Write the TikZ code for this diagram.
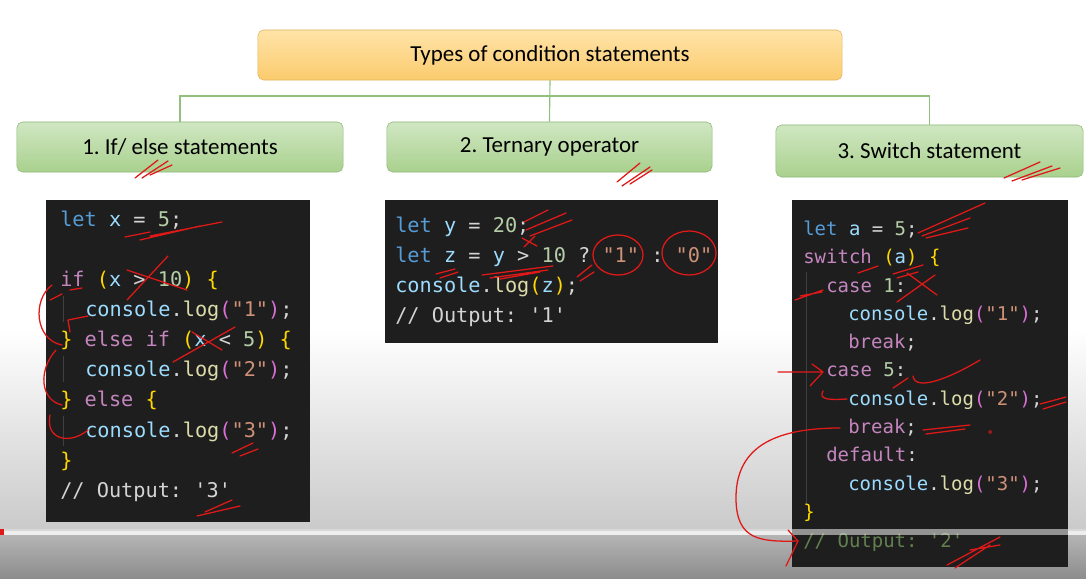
\documentclass[tikz,border=0pt]{standalone}
\usepackage{fontspec}
\setmainfont{Carlito}
\newfontfamily\codefont{DejaVu Sans Mono}
\usepackage{xcolor}
\usetikzlibrary{positioning,arrows.meta}
\definecolor{titletop}{HTML}{FFE4A8}
\definecolor{titlebot}{HTML}{FBCB6E}
\definecolor{titleedge}{HTML}{E0B25C}
\definecolor{kindtop}{HTML}{D0E7C2}
\definecolor{kindbot}{HTML}{A9D18E}
\definecolor{kindedge}{HTML}{8DB878}
\definecolor{treegreen}{HTML}{93BF7C}
\definecolor{panelbg}{HTML}{1E1E1E}
\definecolor{codetext}{HTML}{D4D4D4}
\definecolor{kwblue}{HTML}{569CD6}
\definecolor{varblue}{HTML}{9CDCFE}
\definecolor{numgreen}{HTML}{B5CEA8}
\definecolor{ctlpurple}{HTML}{C586C0}
\definecolor{bracegold}{HTML}{FFD700}
\definecolor{parenpink}{HTML}{DA70D6}
\definecolor{strorange}{HTML}{CE9178}
\definecolor{fngold}{HTML}{DCDCAA}
\definecolor{cmtgreen}{HTML}{62804F}
\definecolor{guidegrey}{HTML}{404040}
\definecolor{inkred}{HTML}{E01818}
\definecolor{fadeA}{HTML}{CACACA}
\definecolor{fadeB}{HTML}{B4B4B4}
\definecolor{fadeC}{HTML}{8C8C8C}
\definecolor{barlight}{HTML}{E2E2E2}
\newcommand{\kwd}[1]{\textcolor{kwblue}{#1}}
\newcommand{\vr}[1]{\textcolor{varblue}{#1}}
\newcommand{\nm}[1]{\textcolor{numgreen}{#1}}
\newcommand{\ctl}[1]{\textcolor{ctlpurple}{#1}}
\newcommand{\brc}[1]{\textcolor{bracegold}{#1}}
\newcommand{\prn}[1]{\textcolor{parenpink}{#1}}
\newcommand{\strg}[1]{\textcolor{strorange}{#1}}
\newcommand{\fnc}[1]{\textcolor{fngold}{#1}}
\newcommand{\logcall}[1]{\vr{console}.\fnc{log}\prn{(}\strg{"#1"}\prn{)};}

\begin{document}
\begin{tikzpicture}[x=0.025cm,y=-0.025cm,
  topic/.style={draw=titleedge,rounded corners=4pt,top color=titletop,bottom color=titlebot,
    minimum width=14.6cm,minimum height=1.25cm,font=\fontsize{16.3}{18}\selectfont},
  kind/.style={draw=kindedge,rounded corners=4pt,top color=kindtop,bottom color=kindbot,
    minimum height=1.25cm,font=\fontsize{16.3}{18}\selectfont\frenchspacing},
  tree/.style={draw=treegreen,line width=0.8pt},
  code/.style={anchor=base west,inner sep=0pt,text=codetext,
    font=\codefont\fontsize{14.4}{16}\selectfont\frenchspacing},
  small code/.style={code,font=\codefont\fontsize{13.5}{16}\selectfont\frenchspacing},
  guide/.style={draw=guidegrey,line width=0.6pt},
  ink/.style={draw=inkred,line width=0.9pt,line cap=round,line join=round}]
  \useasboundingbox (0,0) rectangle (1086,579);
  % backdrop (video overlay fades to grey)
  \fill[white] (0,0) rectangle (1086,331);
  \shade[top color=white,bottom color=fadeA] (0,330) rectangle (1086,530);
  \shade[top color=fadeB,bottom color=fadeC] (0,535) rectangle (1086,579);

  % headings
  \node[topic] (topic) at (550,55) {Types of condition statements};
  \node[kind,minimum width=8.15cm] (kind1) at (180,147) {1. If/ else statements};
  \node[kind,minimum width=8.125cm] (kind2) at (549.5,147) {2. Ternary operator};
  \node[kind,minimum width=7.675cm,minimum height=1.3cm] (kind3) at (929.5,151) {3. Switch statement};
  \coordinate (bus) at (550,96);
  \draw[tree] (topic.south) -- (kind2.north);
  \draw[tree] (kind1.north) |- (bus) -| (kind3.north);

  % panel 1: if / else
  \fill[panelbg] (46,200) rectangle (310,522);
  \draw[guide] (63,296) -- (63,322) (63,356) -- (63,382) (63,416) -- (63,446);
  \node[code] (p1a) at (60,226) {\kwd{let} \vr{x} = \nm{5};};
  \node[code] (p1b) at (60,286) {\ctl{if} \brc{(}\vr{x} > \nm{10}\brc{)} \brc{\{}};
  \node[code] (p1c) at (85,316) {\logcall{1}};
  \node[code] (p1d) at (60,346) {\brc{\}} \ctl{else if} \brc{(}\vr{x} < \nm{5}\brc{)} \brc{\{}};
  \node[code] (p1e) at (85,376) {\logcall{2}};
  \node[code] (p1f) at (60,406) {\brc{\}} \ctl{else} \brc{\{}};
  \node[code] (p1g) at (85,437) {\logcall{3}};
  \node[code] (p1h) at (60,467) {\brc{\}}};
  \node[code] (p1i) at (60,497) {// Output: '3'};

  % panel 2: ternary
  \fill[panelbg] (385,200) rectangle (718,343);
  \node[code] (p2a) at (395,232) {\kwd{let} \vr{y} = \nm{20};};
  \node[code] (p2b) at (395,262) {\kwd{let} \vr{z} = \vr{y} > \nm{10} ? \strg{"1"} : \strg{"0"}};
  \node[code] (p2c) at (395,292) {\vr{console}.\fnc{log}\brc{(}\vr{z}\brc{)};};
  \node[code] (p2d) at (395,322) {// Output: '1'};

  % panel 3: switch
  \fill[panelbg] (792,200) rectangle (1068,567);
  \draw[guide] (806,272) -- (806,505);
  \node[small code] (p3a) at (803,235) {\kwd{let} \vr{a} = \nm{5};};
  \node[small code] (p3b) at (803,263) {\ctl{switch} \brc{(}\vr{a}\brc{)} \brc{\{}};
  \node[small code] (p3c) at (826,292) {\ctl{case} \nm{1}:};
  \node[small code] (p3d) at (848,320) {\logcall{1}};
  \node[small code] (p3e) at (848,348) {\ctl{break};};
  \node[small code] (p3f) at (826,376) {\ctl{case} \nm{5}:};
  \node[small code] (p3g) at (848,405) {\logcall{2}};
  \node[small code] (p3h) at (848,433) {\ctl{break};};
  \node[small code] (p3i) at (826,461) {\ctl{default}:};
  \node[small code] (p3j) at (848,490) {\logcall{3}};
  \node[small code] (p3k) at (803,518) {\brc{\}}};
  \node[small code,text=cmtgreen] (p3l) at (803,547) {// Output: '2'};

  % progress bar
  \fill[barlight,opacity=0.6] (0,529) rectangle (1086,535);
  \fill[inkred] (0,529) rectangle (4,535);

  % red pen marks
  \draw[ink] (135,178) -- (158,160) (142,178) -- (168,161) (150,175) -- (172,165);
  \draw[ink] (617,182) -- (640,163) (622,186) -- (650,167) (630,184) -- (652,170);
  \draw[ink] (1004,178) -- (1040,162) (1012,181) -- (1052,166) (1022,180) -- (1060,168);
  \draw[ink] (125,237) -- (150,232) (140,240) -- (200,226) (150,236) -- (222,222);
  \draw[ink] (127,300) -- (168,256) (127,270) -- (187,290);
  \draw[ink] (50,300) -- (62,294) (70,290) -- (82,288);
  \draw[ink] (52,285) .. controls (32,300) and (35,340) .. (62,345);
  \draw[ink] (68,320) -- (88,316) (68,320) -- (70,332);
  \draw[ink] (56,350) .. controls (38,370) and (40,400) .. (62,405);
  \draw[ink] (50,415) .. controls (45,440) and (70,445) .. (88,430);
  \draw[ink] (173,362) -- (235,327) (192,332) -- (222,350);
  \draw[ink] (232,453) -- (253,443) (240,456) -- (258,449);
  \draw[ink] (197,516) -- (240,506) (205,512) -- (232,500);
  \draw[ink] (618,255) ellipse [x radius=25,y radius=20];
  \draw[ink] (689,253) ellipse [x radius=27,y radius=22];
  \draw[ink] (524,222) -- (548,210) (526,230) -- (566,213) (530,236) -- (572,220);
  \draw[ink] (522,238) -- (537,246) (524,247) -- (535,236);
  \draw[ink] (482,275) -- (553,266) (490,278) -- (548,270) (500,279) -- (540,272);
  \draw[ink] (436,274) -- (455,269) (440,278) -- (458,272);
  \draw[ink] (577,277) -- (592,265) (580,281) -- (594,272);
  \draw[ink] (918,233) -- (985,203) (922,236) -- (970,218) (926,238) -- (968,228);
  \draw[ink] (858,273) -- (878,266) (893,274) -- (923,265) (897,278) -- (918,272);
  \draw[ink] (795,300) -- (823,290) (800,296) -- (822,292);
  \draw[ink] (907,273) -- (937,295) (897,302) -- (935,275);
  \draw[ink] (778,372) -- (823,372) (812,364) -- (823,372) -- (810,386);
  \draw[ink] (893,388) -- (908,378) (913,376) .. controls (915,392) and (950,378) .. (980,360);
  \draw[ink] (823,391) .. controls (818,400) and (830,400) .. (847,399);
  \draw[ink] (1040,404) -- (1066,397) (1043,409) -- (1066,402);
  \draw[ink] (923,430) -- (970,425) (926,434) -- (965,429);
  \draw[inkred,line width=0.5pt] (990,432) circle [radius=1.5];
  \draw[ink] (840,428) .. controls (770,428) and (735,450) .. (736,500)
    .. controls (737,540) and (760,542) .. (798,541);
  \draw[ink] (788,530) -- (798,541) -- (786,566);
  \draw[ink] (947,565) -- (1000,537) (955,568) -- (990,545) (970,550) -- (1000,545);
\end{tikzpicture}
\end{document}
